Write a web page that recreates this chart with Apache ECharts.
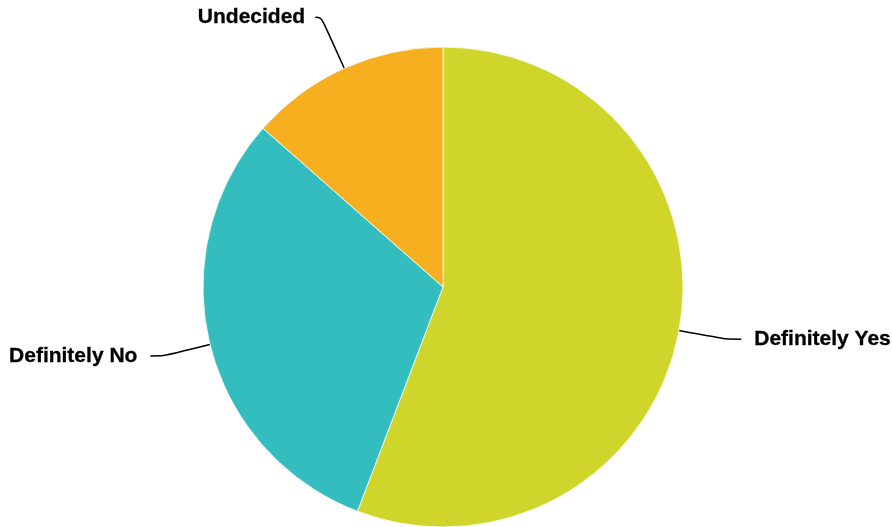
<!DOCTYPE html>
<html><head><meta charset="utf-8">
<script src="https://cdn.jsdelivr.net/npm/echarts@6/dist/echarts.min.js"></script>
<style>html,body{margin:0;padding:0;background:#fff}#c{width:892px;height:527px}</style>
</head><body><div id="c"></div>
<script>
const categories = ["Definitely Yes", "Definitely No", "Undecided"];
const values = [55.8, 30.7, 13.5];
const colors = ["#CFD52A", "#33BDBE", "#F6AF1F"];

const chart = echarts.init(document.getElementById('c'), null, {renderer: 'canvas'});
chart.setOption({
  animation: false,
  backgroundColor: '#fff',
  color: colors,
  series: [{
    type: 'pie',
    center: [443, 287],
    radius: [0, 240],
    startAngle: 90,
    clockwise: true,
    avoidLabelOverlap: false,
    itemStyle: {borderColor: '#fff', borderWidth: 0.8},
    label: {
      show: true,
      color: '#000',
      fontFamily: 'Arial',
      fontWeight: 'bold',
      fontSize: 21,
      distanceToLabelLine: 13,
      textBorderColor: '#000',
      textBorderWidth: 0.3
    },
    labelLine: {
      show: true,
      length: 48,
      length2: 15,
      smooth: 0.25,
      lineStyle: {color: '#000', width: 1.5}
    },
    data: categories.map((n, i) => ({
      name: n, value: values[i],
      labelLine: i === 2 ? {length: 56, length2: 6, smooth: 0.4}
               : (i === 1 ? {length: 48, length2: 13} : undefined),
      label: i === 2 ? {distanceToLabelLine: 10} : undefined
    }))
  }]
});
</script></body></html>
